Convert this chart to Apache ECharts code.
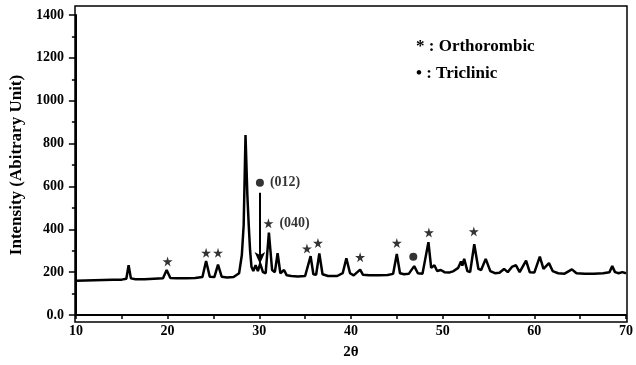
<!DOCTYPE html>
<html>
<head>
<meta charset="utf-8">
<script src="https://cdn.jsdelivr.net/npm/echarts@6/dist/echarts.min.js"></script>
<style>
  html, body { margin: 0; padding: 0; background: #fff; }
  #chart { width: 636px; height: 365px; }
</style>
</head>
<body>
<div id="chart"></div>
<script>
// XRD trace (2θ, intensity)
const twoTheta = [10, 11, 12, 13, 14, 15, 15.5, 15.75, 16.0, 16.5, 17.5, 18.5, 19.5, 19.9, 20.3, 21, 22, 23, 23.8, 24.2, 24.6, 25.1, 25.5, 25.9, 26.5, 27.2, 27.8, 28.1, 28.3, 28.5, 28.7, 28.85, 29.0, 29.15, 29.35, 29.6, 29.85, 30.1, 30.4, 30.7, 31.05, 31.4, 31.7, 32.0, 32.3, 32.7, 33.0, 33.5, 34.2, 35.0, 35.6, 35.9, 36.2, 36.55, 36.9, 37.5, 38.5, 39.1, 39.5, 39.9, 40.3, 41.0, 41.3, 42, 43, 44, 44.6, 45.0, 45.35, 45.8, 46.3, 46.9, 47.3, 47.8, 48.45, 48.75, 49.1, 49.4, 49.8, 50.2, 50.7, 51.2, 51.7, 52.0, 52.15, 52.35, 52.7, 53.0, 53.45, 53.9, 54.2, 54.7, 55.2, 55.7, 56.2, 56.7, 57.1, 57.6, 58.0, 58.4, 59.1, 59.5, 60.0, 60.6, 61.0, 61.6, 62.0, 62.6, 63.3, 64.1, 64.6, 65.5, 66.5, 67.5, 68.2, 68.5, 68.8, 69.2, 69.6, 70];
const intensity = [160, 161, 162, 163, 164, 165, 169, 232, 171, 167, 167, 169, 171, 210, 173, 171, 171, 173, 177, 252, 179, 177, 235, 179, 175, 177, 195, 280, 420, 840, 560, 420, 300, 225, 205, 232, 205, 240, 200, 195, 385, 210, 200, 288, 195, 210, 185, 182, 180, 182, 275, 190, 188, 287, 190, 182, 182, 195, 265, 195, 185, 212, 188, 185, 185, 187, 192, 285, 195, 190, 192, 228, 195, 192, 340, 220, 232, 205, 210, 200, 198, 205, 220, 250, 230, 262, 205, 200, 330, 215, 210, 262, 205, 195, 197, 215, 200, 226, 232, 200, 254, 200, 198, 272, 215, 242, 205, 195, 193, 213, 195, 192, 193, 195, 200, 228, 200, 195, 200, 195];

// orthorhombic markers (stars)
const starX = [20.0, 24.2, 25.5, 31.0, 35.2, 36.4, 41.0, 45.0, 48.5, 53.4];
const starY = [250, 290, 290, 428, 310, 336, 270, 336, 385, 390];
const starLabels = ['', '', '', '(040)', '', '', '', '', '', ''];

// triclinic markers (dots)
const dotX = [30.07, 46.8];
const dotY = [617, 272];
const dotLabels = ['(012)', ''];

// arrow from the (012) dot down to the peak
const arrowX = 30.07;
const arrowFrom = 570;
const arrowTo = 238;

const font = 'Liberation Serif';
const starPath = 'path://M50,0 L61,35 L98,35 L68,57 L79,91 L50,70 L21,91 L32,57 L2,35 L39,35 Z';

let myChart = echarts.init(document.getElementById('chart'));

let option = {
  animation: false,
  textStyle: { fontFamily: font, color: '#000' },
  grid: [
    { left: 75, right: 9, top: 15, bottom: 43 },
    { left: 75, right: 9, top: 6, bottom: 43, show: true, borderColor: '#000', borderWidth: 1.5, backgroundColor: 'transparent' }
  ],
  xAxis: [
    {
      type: 'value', min: 10, max: 70, interval: 10,
      name: '2θ', nameLocation: 'middle', nameGap: 30,
      nameTextStyle: { fontFamily: font, fontWeight: 'bold', fontSize: 15, color: '#000' },
      axisLine: { lineStyle: { color: '#000', width: 2 } },
      axisTick: { length: 4, lineStyle: { color: '#000', width: 1.5 } },
      minorTick: { show: true, splitNumber: 2, length: 4, lineStyle: { color: '#000', width: 1.5 } },
      axisLabel: { fontFamily: font, fontWeight: 'bold', fontSize: 14, color: '#000', margin: 9 },
      splitLine: { show: false }
    },
    { gridIndex: 1, type: 'value', min: 0, max: 1, show: false }
  ],
  yAxis: [
    {
      type: 'value', min: 0, max: 1400, interval: 200,
      name: 'Intensity (Abitrary Unit)', nameLocation: 'middle', nameGap: 48,
      nameTextStyle: { fontFamily: font, fontWeight: 'bold', fontSize: 17, color: '#000' },
      axisLine: { show: true, lineStyle: { color: '#000', width: 2 } },
      axisTick: { show: true, length: 7, lineStyle: { color: '#000', width: 1.5 } },
      minorTick: { show: true, splitNumber: 2, length: 4, lineStyle: { color: '#000', width: 1.5 } },
      axisLabel: {
        fontFamily: font, fontWeight: 'bold', fontSize: 14, color: '#000', margin: 12,
        formatter: function (v) { return v === 0 ? '0.0' : String(v); }
      },
      splitLine: { show: false }
    },
    { gridIndex: 1, type: 'value', min: 0, max: 1, show: false }
  ],
  graphic: [
    {
      type: 'text', left: 416, top: 38,
      style: { text: '* : Orthorombic', fontFamily: font, fontWeight: 'bold', fontSize: 17, fill: '#000' }
    },
    {
      type: 'text', left: 416, top: 65,
      style: { text: '• : Triclinic', fontFamily: font, fontWeight: 'bold', fontSize: 17, fill: '#000' }
    }
  ],
  series: [
    {
      name: 'XRD',
      type: 'line',
      data: twoTheta.map(function (x, i) { return [x, intensity[i]]; }),
      showSymbol: false,
      lineStyle: { color: '#000', width: 2.5 },
      markLine: {
        silent: true,
        symbol: ['none', 'arrow'],
        symbolSize: [8, 12],
        label: { show: false },
        lineStyle: { color: '#000', width: 2, type: 'solid' },
        data: [[{ coord: [arrowX, arrowFrom] }, { coord: [arrowX, arrowTo] }]]
      }
    },
    {
      name: 'Orthorombic',
      type: 'scatter',
      symbol: starPath,
      symbolSize: 10,
      itemStyle: { color: '#000' },
      label: {
        show: true, position: 'right', distance: 6,
        fontFamily: font, fontWeight: 'bold', fontSize: 14, color: '#000',
        formatter: function (p) { return starLabels[p.dataIndex]; }
      },
      data: starX.map(function (x, i) { return [x, starY[i]]; })
    },
    {
      name: 'Triclinic',
      type: 'scatter',
      symbol: 'circle',
      symbolSize: 8,
      itemStyle: { color: '#000' },
      label: {
        show: true, position: 'right', distance: 6,
        fontFamily: font, fontWeight: 'bold', fontSize: 14, color: '#000',
        formatter: function (p) { return dotLabels[p.dataIndex]; }
      },
      data: dotX.map(function (x, i) { return [x, dotY[i]]; })
    }
  ]
};
myChart.setOption(option);
</script>
</body>
</html>
